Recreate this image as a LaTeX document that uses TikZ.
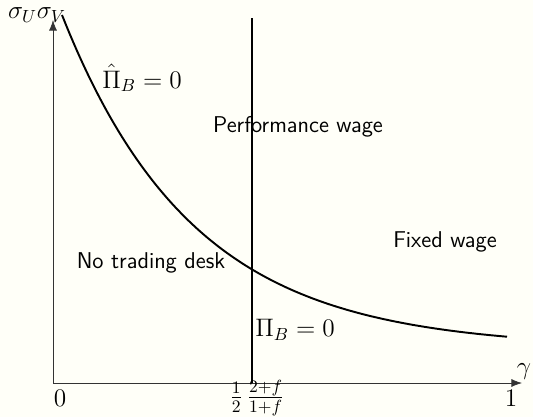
\documentclass[tikz,border=0pt]{standalone}
\usepackage{amsmath}
\usepackage{amssymb}
\usepackage{tikz}
\usetikzlibrary{arrows.meta, positioning}

\definecolor{paper}{RGB}{255,255,248}

\begin{document}
\begin{tikzpicture}[x=0.02cm, y=0.02cm]
    % frame and paper
    \fill[paper] (0,0) rectangle (533,417);
    \useasboundingbox (0,0) rectangle (533,417);

    % Axes
    \coordinate (O) at (53,34);
    \coordinate (xend) at (522,34);
    \coordinate (yend) at (53,397);
    \draw[-{Latex[length=6pt,width=4.5pt]}, black!80] (O) -- (xend);
    \draw[-{Latex[length=6pt,width=4.5pt]}, black!80] (O) -- (yend);
    \node[font=\Large] (ylab) at (37,402) {$\sigma_U\sigma_V$};
    \node[font=\Large] (xlab) at (524,45) {$\gamma$};
    \node[font=\Large] (zero) at (60,19) {$0$};
    \node[font=\Large] (one) at (511,19) {$1$};
    \node[font=\Large] (half) at (257,19) {$\frac{1}{2}\,\frac{2+f}{1+f}$};

    % Pi_B = 0 boundary
    \coordinate (vbot) at (252,34);
    \coordinate (vtop) at (252,399);
    \draw[line width=1.1pt] (vbot) -- (vtop);

    % hat Pi_B = 0 boundary
    \draw[line width=1.1pt, domain=62:507, samples=120]
        plot (\x, {69 + 333*exp(-0.0076*(\x-62))});

    % Regions
    \node[font=\Large, inner sep=1pt] (pihat) at (142,339) {$\hat{\Pi}_B = 0$};
    \node[font=\fontsize{13}{15}\selectfont\sffamily] (perf) at (298,290) {Performance wage};
    \node[font=\fontsize{13}{15}\selectfont\sffamily] (fixed) at (445,175) {Fixed wage};
    \node[font=\fontsize{13}{15}\selectfont\sffamily] (notd) at (151,154) {No trading desk};
    \node[font=\Large] (pib) at (295,87) {$\Pi_B = 0$};
\end{tikzpicture}
\end{document}
